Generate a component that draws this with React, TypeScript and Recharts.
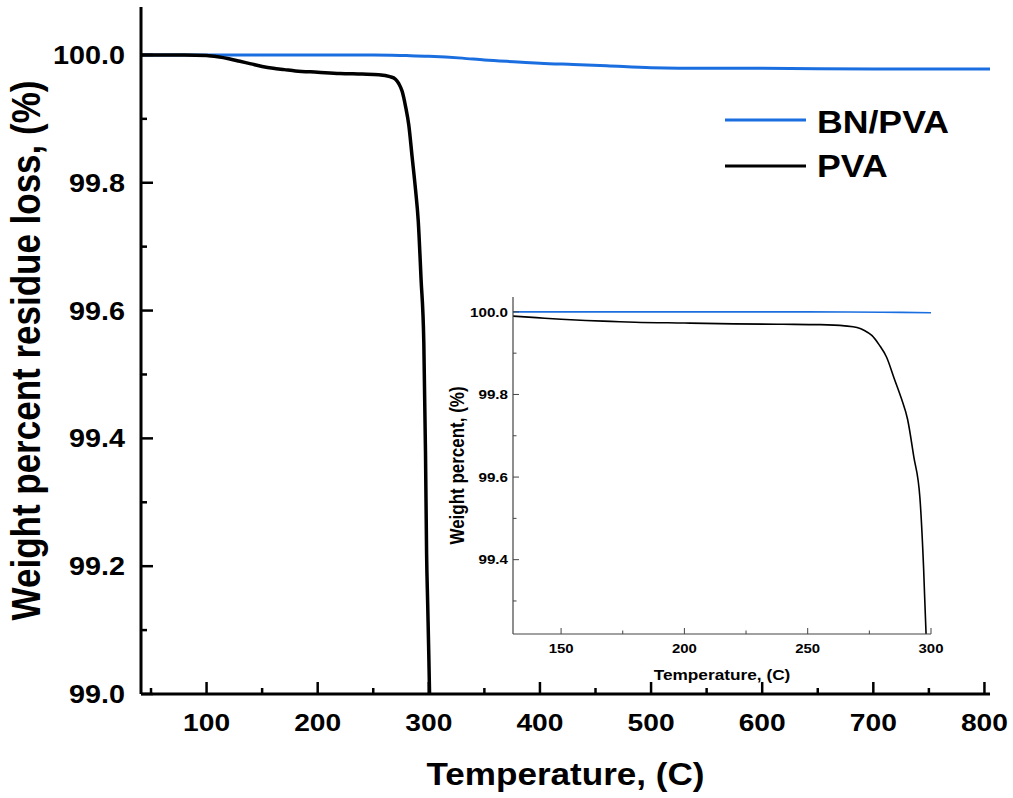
import React from "react";
import { LineChart, Line, XAxis, YAxis, Legend, Label } from "recharts";

// PVA film, weight (%) vs temperature (C)
const pvaTemp = [41, 60, 80, 100, 110, 120, 130, 140, 150, 160, 170, 180, 200, 220, 240, 255, 265, 270, 273, 276, 279, 282, 285, 288, 290.5, 293, 295.5, 297, 298, 299, 300, 301];
const pvaWeight = [100.0, 100.0, 100.0, 99.999, 99.997, 99.994, 99.99, 99.986, 99.982, 99.979, 99.977, 99.975, 99.973, 99.971, 99.97, 99.969, 99.966, 99.962, 99.955, 99.943, 99.92, 99.89, 99.84, 99.79, 99.74, 99.65, 99.55, 99.38, 99.22, 99.14, 99.06, 98.97];

// BN/PVA composite
const bnTemp = [41, 100, 150, 200, 250, 280, 300, 330, 350, 380, 400, 430, 460, 500, 550, 600, 700, 805];
const bnWeight = [100.0, 100.0, 100.0, 100.0, 100.0, 99.999, 99.998, 99.995, 99.992, 99.989, 99.987, 99.985, 99.983, 99.98, 99.979, 99.979, 99.978, 99.978];

// ticks (all) and the ones that get a label
const mainXTicks = [50, 100, 150, 200, 250, 300, 350, 400, 450, 500, 550, 600, 650, 700, 750, 800];
const mainXLabels = [100, 200, 300, 400, 500, 600, 700, 800];
const mainYTicks = [99.0, 99.1, 99.2, 99.3, 99.4, 99.5, 99.6, 99.7, 99.8, 99.9, 100.0];
const mainYLabels = [99.0, 99.2, 99.4, 99.6, 99.8, 100.0];
const insetXTicks = [150, 175, 200, 225, 250, 275, 300];
const insetXLabels = [150, 200, 250, 300];
const insetYTicks = [99.3, 99.4, 99.5, 99.6, 99.7, 99.8, 99.9, 100.0];
const insetYLabels = [99.4, 99.6, 99.8, 100.0];

const pvaData = pvaTemp.map((t, i) => ({ t, w: pvaWeight[i] }));
const bnData = bnTemp.map((t, i) => ({ t, w: bnWeight[i] }));

const FONT = "'Liberation Sans', Arial, Helvetica, sans-serif";
const STRETCH = 1.15; // source figure is squashed a bit, glyphs look wider than tall
const BLUE = "#1b6ee0";

const has = (list: number[], v: number) => list.some((l) => Math.abs(l - v) < 1e-6);

function Txt({ x, y, size, anchor = "middle", rotate = false, dy, children }: any) {
  const tf = `translate(${x},${y}) scale(${STRETCH},1)` + (rotate ? " rotate(-90)" : "");
  return (
    <text transform={tf} dy={dy} textAnchor={anchor} fontFamily={FONT} fontWeight="bold" fontSize={size} fill="#000">
      {children}
    </text>
  );
}

// inward ticks for a bottom axis
const makeXTick = (labels: number[], major: number, minor: number, color: string, sw: number, size: number, gap: number) =>
  (props: any) => {
    const { x, y, payload } = props;
    const big = has(labels, payload.value);
    return (
      <g>
        <line x1={x} x2={x} y1={y} y2={y - (big ? major : minor)} stroke={color} strokeWidth={sw} />
        {big && <Txt x={x} y={y + gap} size={size}>{payload.value}</Txt>}
      </g>
    );
  };

// inward ticks for a left axis
const makeYTick = (labels: number[], major: number, minor: number, color: string, sw: number, size: number, gap: number) =>
  (props: any) => {
    const { x, y, payload } = props;
    const big = has(labels, payload.value);
    return (
      <g>
        <line x1={x} x2={x + (big ? major : minor)} y1={y} y2={y} stroke={color} strokeWidth={sw} />
        {big && (
          <Txt x={x - gap} y={y} size={size} anchor="end" dy="0.36em">
            {Number(payload.value).toFixed(1)}
          </Txt>
        )}
      </g>
    );
  };

function LegendBox({ payload }: any) {
  return (
    <svg width={250} height={95}>
      {(payload || []).map((p: any, i: number) => (
        <g key={p.value}>
          <line x1={5} x2={86} y1={24 + i * 46} y2={24 + i * 46} stroke={p.color} strokeWidth={3} />
          <Txt x={97} y={37 + i * 44} size={31} anchor="start">{p.value}</Txt>
        </g>
      ))}
    </svg>
  );
}

export default function App() {
  return (
    <div style={{ position: "absolute", left: 0, top: 0, width: 1013, height: 798, background: "#fff" }}>
      <LineChart width={1013} height={798} margin={{ top: 7, right: 23, bottom: 0, left: 0 }}>
        <XAxis
          dataKey="t"
          type="number"
          domain={[41, 805]}
          allowDataOverflow
          ticks={mainXTicks}
          interval={0}
          height={104}
          tickSize={0}
          tickMargin={0}
          tickLine={false}
          axisLine={{ stroke: "#000", strokeWidth: 3 }}
          tick={makeXTick(mainXLabels, 12, 6, "#000", 2.5, 24.5, 37)}
        >
          <Label
            content={(p: any) => {
              const vb = p.viewBox;
              return <Txt x={vb.x + vb.width / 2} y={vb.y + 91} size={30.5}>Temperature, (C)</Txt>;
            }}
          />
        </XAxis>
        <XAxis xAxisId="top" orientation="top" type="number" domain={[41, 805]} height={0} tick={false} tickLine={false} axisLine={{ stroke: "#000", strokeWidth: 3 }} />
        <YAxis
          type="number"
          domain={[99, 100.075]}
          allowDataOverflow
          ticks={mainYTicks}
          interval={0}
          width={141}
          tickSize={0}
          tickMargin={0}
          tickLine={false}
          axisLine={{ stroke: "#000", strokeWidth: 3 }}
          tick={makeYTick(mainYLabels, 12, 6, "#000", 2.5, 25, 16)}
        >
          <Label
            content={(p: any) => {
              const vb = p.viewBox;
              return (
                <Txt x={40} y={vb.y + vb.height / 2} size={35} rotate>
                  Weight percent residue loss, (%)
                </Txt>
              );
            }}
          />
        </YAxis>
        <YAxis yAxisId="right" orientation="right" type="number" domain={[99, 100.075]} width={0} tick={false} tickLine={false} axisLine={{ stroke: "#000", strokeWidth: 3 }} />
        <Legend
          layout="vertical"
          align="center"
          verticalAlign="middle"
          wrapperStyle={{ left: 720, top: 96, width: 250 }}
          content={(p: any) => <LegendBox payload={p.payload} />}
        />
        <Line data={bnData} dataKey="w" name="BN/PVA" type="monotone" stroke={BLUE} strokeWidth={3} dot={false} isAnimationActive={false} />
        <Line data={pvaData} dataKey="w" name="PVA" type="monotone" stroke="#000" strokeWidth={3.5} dot={false} isAnimationActive={false} />
      </LineChart>

      {/* inset: zoom on 130-300 C */}
      <div style={{ position: "absolute", left: 440, top: 290 }}>
        <LineChart width={530} height={400} margin={{ top: 7, right: 39, bottom: 0, left: 0 }}>
          <XAxis
            dataKey="t"
            type="number"
            domain={[130.5, 300]}
            allowDataOverflow
            ticks={insetXTicks}
            interval={0}
            height={56}
            tickSize={0}
            tickMargin={0}
            tickLine={false}
            axisLine={{ stroke: "#444", strokeWidth: 1.2 }}
            tick={makeXTick(insetXLabels, 6, 3.5, "#444", 1, 13, 19)}
          >
            <Label
              content={(p: any) => {
                const vb = p.viewBox;
                return <Txt x={vb.x + vb.width / 2} y={vb.y + 46} size={15}>Temperature, (C)</Txt>;
              }}
            />
          </XAxis>
          <XAxis xAxisId="top" orientation="top" type="number" domain={[130.5, 300]} height={0} tick={false} tickLine={false} axisLine={{ stroke: "#444", strokeWidth: 1.2 }} />
          <YAxis
            type="number"
            domain={[99.22, 100.036]}
            allowDataOverflow
            ticks={insetYTicks}
            interval={0}
            width={73}
            tickSize={0}
            tickMargin={0}
            tickLine={false}
            axisLine={{ stroke: "#444", strokeWidth: 1.2 }}
            tick={makeYTick(insetYLabels, 6, 3.5, "#444", 1, 13.2, 5)}
          >
            <Label
              content={(p: any) => {
                const vb = p.viewBox;
                return (
                  <Txt x={24} y={vb.y + vb.height / 2} size={17} rotate>
                    Weight percent, (%)
                  </Txt>
                );
              }}
            />
          </YAxis>
          <YAxis yAxisId="right" orientation="right" type="number" domain={[99.22, 100.036]} width={0} tick={false} tickLine={false} axisLine={{ stroke: "#444", strokeWidth: 1.2 }} />
          <Line data={bnData} dataKey="w" name="BN/PVA" type="monotone" stroke={BLUE} strokeWidth={1.6} dot={false} isAnimationActive={false} />
          <Line data={pvaData} dataKey="w" name="PVA" type="monotone" stroke="#000" strokeWidth={1.6} dot={false} isAnimationActive={false} />
        </LineChart>
      </div>
    </div>
  );
}
